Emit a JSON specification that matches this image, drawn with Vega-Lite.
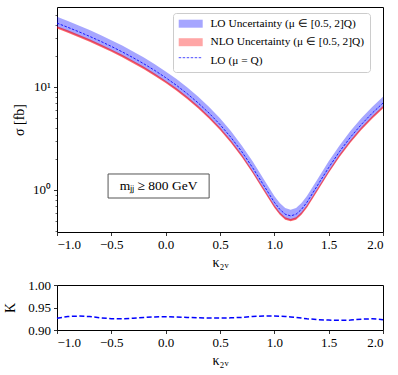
{
  "$schema": "https://vega.github.io/schema/vega-lite/v6.json",
  "padding": {"left": 3, "top": 6, "right": 5, "bottom": 3},
  "config": {
    "font": "Liberation Serif",
    "view": {"stroke": "black", "strokeWidth": 1},
    "axis": {
      "labelFont": "Liberation Serif", "titleFont": "Liberation Serif",
      "labelFontSize": 13, "titleFontSize": 14, "titleFontWeight": "normal",
      "labelColor": "black", "titleColor": "black", "tickColor": "black",
      "domain": false, "grid": false, "tickSize": 3.5, "tickWidth": 0.8, "labelPadding": 3
    }
  },
  "data": {"values": [
    {"k": -1.0, "lo": 41.70, "lo_hi": 47.96, "lo_lo": 37.74, "nlo_hi": 38.99, "nlo_lo": 36.90, "K": 0.926},
    {"k": -0.9, "lo": 37.96, "lo_hi": 43.65, "lo_lo": 34.35, "nlo_hi": 35.49, "nlo_lo": 33.59, "K": 0.930},
    {"k": -0.8, "lo": 34.40, "lo_hi": 39.56, "lo_lo": 31.13, "nlo_hi": 32.16, "nlo_lo": 30.44, "K": 0.931},
    {"k": -0.7, "lo": 31.02, "lo_hi": 35.67, "lo_lo": 28.07, "nlo_hi": 29.00, "nlo_lo": 27.45, "K": 0.930},
    {"k": -0.6, "lo": 27.82, "lo_hi": 31.99, "lo_lo": 25.18, "nlo_hi": 26.01, "nlo_lo": 24.62, "K": 0.927},
    {"k": -0.5, "lo": 24.79, "lo_hi": 28.51, "lo_lo": 22.43, "nlo_hi": 23.18, "nlo_lo": 21.94, "K": 0.925},
    {"k": -0.4, "lo": 21.94, "lo_hi": 25.23, "lo_lo": 19.86, "nlo_hi": 20.51, "nlo_lo": 19.42, "K": 0.925},
    {"k": -0.3, "lo": 19.27, "lo_hi": 22.16, "lo_lo": 17.44, "nlo_hi": 18.02, "nlo_lo": 17.05, "K": 0.926},
    {"k": -0.2, "lo": 16.78, "lo_hi": 19.30, "lo_lo": 15.19, "nlo_hi": 15.69, "nlo_lo": 14.85, "K": 0.928},
    {"k": -0.1, "lo": 14.47, "lo_hi": 16.64, "lo_lo": 13.10, "nlo_hi": 13.53, "nlo_lo": 12.81, "K": 0.929},
    {"k": 0.0, "lo": 12.33, "lo_hi": 14.18, "lo_lo": 11.16, "nlo_hi": 11.53, "nlo_lo": 10.91, "K": 0.9295},
    {"k": 0.1, "lo": 10.37, "lo_hi": 11.93, "lo_lo": 9.38, "nlo_hi": 9.70, "nlo_lo": 9.18, "K": 0.929},
    {"k": 0.2, "lo": 8.59, "lo_hi": 9.88, "lo_lo": 7.77, "nlo_hi": 8.03, "nlo_lo": 7.60, "K": 0.928},
    {"k": 0.3, "lo": 6.99, "lo_hi": 8.04, "lo_lo": 6.33, "nlo_hi": 6.54, "nlo_lo": 6.19, "K": 0.927},
    {"k": 0.4, "lo": 5.57, "lo_hi": 6.41, "lo_lo": 5.04, "nlo_hi": 5.21, "nlo_lo": 4.93, "K": 0.9265},
    {"k": 0.5, "lo": 4.32, "lo_hi": 4.97, "lo_lo": 3.91, "nlo_hi": 4.04, "nlo_lo": 3.82, "K": 0.9265},
    {"k": 0.6, "lo": 3.25, "lo_hi": 3.74, "lo_lo": 2.94, "nlo_hi": 3.04, "nlo_lo": 2.88, "K": 0.927},
    {"k": 0.7, "lo": 2.36, "lo_hi": 2.71, "lo_lo": 2.14, "nlo_hi": 2.21, "nlo_lo": 2.09, "K": 0.928},
    {"k": 0.8, "lo": 1.65, "lo_hi": 1.90, "lo_lo": 1.49, "nlo_hi": 1.54, "nlo_lo": 1.46, "K": 0.930},
    {"k": 0.9, "lo": 1.12, "lo_hi": 1.288, "lo_lo": 1.014, "nlo_hi": 1.047, "nlo_lo": 0.991, "K": 0.931},
    {"k": 1.0, "lo": 0.76, "lo_hi": 0.874, "lo_lo": 0.688, "nlo_hi": 0.711, "nlo_lo": 0.673, "K": 0.931},
    {"k": 1.05, "lo": 0.649, "lo_hi": 0.746, "lo_lo": 0.587, "nlo_hi": 0.607, "nlo_lo": 0.574, "K": 0.9305},
    {"k": 1.1, "lo": 0.582, "lo_hi": 0.669, "lo_lo": 0.527, "nlo_hi": 0.544, "nlo_lo": 0.515, "K": 0.930},
    {"k": 1.15, "lo": 0.560, "lo_hi": 0.644, "lo_lo": 0.507, "nlo_hi": 0.524, "nlo_lo": 0.496, "K": 0.929},
    {"k": 1.2, "lo": 0.582, "lo_hi": 0.669, "lo_lo": 0.527, "nlo_hi": 0.544, "nlo_lo": 0.515, "K": 0.928},
    {"k": 1.25, "lo": 0.649, "lo_hi": 0.746, "lo_lo": 0.587, "nlo_hi": 0.607, "nlo_lo": 0.574, "K": 0.9265},
    {"k": 1.3, "lo": 0.76, "lo_hi": 0.874, "lo_lo": 0.688, "nlo_hi": 0.711, "nlo_lo": 0.673, "K": 0.925},
    {"k": 1.4, "lo": 1.12, "lo_hi": 1.288, "lo_lo": 1.014, "nlo_hi": 1.047, "nlo_lo": 0.991, "K": 0.923},
    {"k": 1.5, "lo": 1.65, "lo_hi": 1.90, "lo_lo": 1.49, "nlo_hi": 1.54, "nlo_lo": 1.46, "K": 0.922},
    {"k": 1.6, "lo": 2.36, "lo_hi": 2.71, "lo_lo": 2.14, "nlo_hi": 2.21, "nlo_lo": 2.09, "K": 0.9215},
    {"k": 1.7, "lo": 3.25, "lo_hi": 3.74, "lo_lo": 2.94, "nlo_hi": 3.04, "nlo_lo": 2.88, "K": 0.922},
    {"k": 1.8, "lo": 4.32, "lo_hi": 4.97, "lo_lo": 3.91, "nlo_hi": 4.04, "nlo_lo": 3.82, "K": 0.924},
    {"k": 1.9, "lo": 5.57, "lo_hi": 6.41, "lo_lo": 5.04, "nlo_hi": 5.21, "nlo_lo": 4.93, "K": 0.925},
    {"k": 2.0, "lo": 6.99, "lo_hi": 8.04, "lo_lo": 6.33, "nlo_hi": 6.54, "nlo_lo": 6.19, "K": 0.923}
  ]},
  "spacing": 8,
  "vconcat": [
    {
      "width": 326, "height": 225,
      "layer": [
        {
          "mark": {"type": "area", "opacity": 0.35},
          "encoding": {
            "x": {"field": "k", "type": "quantitative", "scale": {"domain": [-1, 2], "nice": false, "zero": false},
                  "axis": {"values": [-1, -0.5, 0, 0.5, 1, 1.5, 2], "format": ".1f", "title": "κ₂ᵥ", "titlePadding": 4}},
            "y": {"field": "lo_hi", "type": "quantitative", "scale": {"type": "log", "domain": [0.391, 59.8], "nice": false},
                  "axis": {"values": [0.4, 0.5, 0.6, 0.7, 0.8, 0.9, 1, 2, 3, 4, 5, 6, 7, 8, 9, 10, 20, 30, 40, 50],
                           "labelExpr": "datum.value == 1 ? '10⁰' : (datum.value == 10 ? '10¹' : '')",
                           "tickSize": {"condition": {"test": "datum.value == 1 || datum.value == 10", "value": 3.5}, "value": 2},
                           "tickWidth": {"condition": {"test": "datum.value == 1 || datum.value == 10", "value": 0.8}, "value": 0.6},
                           "title": "σ [fb]", "titlePadding": 6}},
            "y2": {"field": "lo_lo"},
            "color": {"datum": "LO Uncertainty (μ ∈ [0.5, 2]Q)", "type": "nominal",
              "scale": {"domain": ["LO Uncertainty (μ ∈ [0.5, 2]Q)", "NLO Uncertainty (μ ∈ [0.5, 2]Q)", "LO (μ = Q)"], "range": ["#0000ff", "#ff0000", "#ffffff"]},
              "legend": {
                "orient": "none", "legendX": 116, "legendY": 6, "title": null,
                "fillColor": "white", "strokeColor": "#cccccc", "cornerRadius": 3, "padding": 5,
                "labelFont": "Liberation Serif", "labelFontSize": 11.4, "labelColor": "black", "labelLimit": 300,
                "symbolType": "M-2.4,-0.8H2.4V0.8H-2.4Z", "symbolStrokeWidth": 0,
                "symbolSize": 100, "symbolOffset": 7, "labelOffset": 14, "rowPadding": 5.5, "zindex": 1
              }}
          }
        },
        {
          "mark": {"type": "area", "opacity": 0.6, "color": "#ff0000"},
          "encoding": {
            "x": {"field": "k", "type": "quantitative", "title": "κ₂ᵥ"},
            "y": {"field": "nlo_hi", "type": "quantitative", "title": "σ [fb]"},
            "y2": {"field": "nlo_lo"}
          }
        },
        {
          "mark": {"type": "line", "strokeWidth": 1, "strokeDash": [2.5, 1.5], "opacity": 0.85},
          "encoding": {
            "x": {"field": "k", "type": "quantitative", "title": "κ₂ᵥ"},
            "y": {"field": "lo", "type": "quantitative", "title": "σ [fb]"},
            "stroke": {"datum": "LO (μ = Q)", "type": "nominal",
              "scale": {"domain": ["LO (μ = Q)"], "range": ["#0000ff"]},
              "legend": {
                "orient": "none", "legendX": 116, "legendY": 40, "title": null, "padding": 5,
                "labelExpr": "''", "labelFontSize": 11.4,
                "symbolType": "M-2.4,0H2.4", "symbolSize": 100, "symbolOffset": 7,
                "symbolDash": [2.5, 1.5], "symbolStrokeWidth": 1, "symbolStrokeColor": "#0000ff", "symbolOpacity": 0.7, "symbolFillColor": "transparent",
                "zindex": 2
              }}
          }
        },
        {
          "data": {"values": [{}]},
          "mark": {"type": "rect", "fill": "white", "stroke": "#555555", "strokeWidth": 1},
          "encoding": {
            "x": {"datum": -0.53, "type": "quantitative"},
            "x2": {"datum": 0.40},
            "y": {"datum": 1.43, "type": "quantitative"},
            "y2": {"datum": 0.836}
          }
        },
        {
          "data": {"values": [{}]},
          "mark": {"type": "text", "font": "Liberation Serif", "fontSize": 13.5, "color": "black", "align": "center", "baseline": "middle"},
          "encoding": {
            "x": {"datum": -0.065, "type": "quantitative"},
            "y": {"datum": 1.09, "type": "quantitative"},
            "text": {"value": "mⱼⱼ ≥ 800 GeV"}
          }
        }
      ]
    },
    {
      "width": 326, "height": 45,
      "mark": {"type": "line", "color": "#0000ff", "strokeWidth": 1.5, "strokeDash": [5, 2.5]},
      "encoding": {
        "x": {"field": "k", "type": "quantitative", "scale": {"domain": [-1, 2], "nice": false, "zero": false},
              "axis": {"values": [-1, -0.5, 0, 0.5, 1, 1.5, 2], "format": ".1f", "title": "κ₂ᵥ", "titlePadding": 4}},
        "y": {"field": "K", "type": "quantitative", "scale": {"domain": [0.9, 1.0], "nice": false, "zero": false},
              "axis": {"values": [0.9, 0.95, 1.0], "format": ".2f", "title": "K", "titlePadding": 10}}
      }
    }
  ]
}
